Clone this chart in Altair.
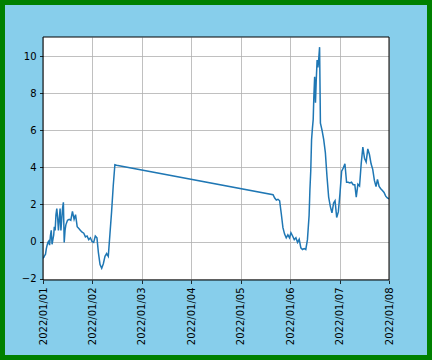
import altair as alt
import pandas as pd

# hours elapsed since 2022-01-01 00:00
hours = [
    0.0, 0.4, 0.8, 1.2, 1.6, 2.0, 2.4, 2.8, 3.2, 3.6, 4.0, 4.4, 4.8, 5.2, 5.5, 5.9,
    6.3, 6.7, 7.1, 7.5, 7.9, 8.3, 8.7, 9.1, 9.5, 9.9, 10.3, 10.7, 11.1,
    11.9, 12.7, 13.5, 14.3, 15.1, 15.8, 16.6, 17.4, 18.2, 19.0, 19.8, 20.6, 21.4,
    22.2, 23.0, 23.8, 24.6, 25.4, 26.2, 26.9, 27.7, 28.5, 29.3, 30.1, 30.9, 31.7,
    32.5, 33.3, 34.1, 34.9, 35.7,
    111.7, 112.5, 113.3, 114.1, 114.9, 115.7, 116.5, 117.3, 118.1, 118.9, 119.7,
    120.4, 121.2, 122.0, 122.8, 123.6, 124.4, 125.2, 126.0, 126.8, 127.6, 128.4,
    129.2, 129.6, 130.0, 130.4, 130.8, 131.2, 131.5, 131.9, 132.3, 132.7, 133.1,
    133.5, 133.9, 134.3, 134.7,
    135.5, 136.3, 137.1, 137.9, 138.7, 139.5, 140.3, 141.1, 141.8, 142.6, 143.4,
    144.2, 145.0, 145.8, 146.6, 147.4, 148.2, 149.0, 149.8, 150.6, 151.4, 152.1,
    152.9, 153.7, 154.5, 155.3, 156.1, 156.9, 157.7, 158.5, 159.3, 160.1, 160.9,
    161.7, 162.4, 163.2, 164.0, 164.8, 165.6, 166.4, 167.2, 168.0,
]

values = [
    -0.9, -0.85, -0.75, -0.7, -0.4, -0.2, -0.05, 0.02, -0.2, 0.3, 0.6, -0.15, 0.1, 0.35, 0.8, 0.6,
    1.45, 1.78, 1.3, 0.6, 1.2, 1.78, 0.6, 1.2, 1.8, 2.12, -0.05, 0.6, 0.9,
    1.15, 1.2, 1.15, 1.63, 1.2, 1.45, 0.8, 0.7, 0.6, 0.5, 0.45, 0.25, 0.3,
    0.1, 0.2, 0.0, -0.05, 0.3, 0.2, -0.6, -1.25, -1.45, -1.2, -0.8, -0.65, -0.8,
    0.4, 1.6, 3.0, 4.15, 4.12,
    2.53, 2.35, 2.24, 2.28, 2.2, 1.5, 0.75, 0.4, 0.2, 0.36, 0.2,
    0.47, 0.3, 0.1, 0.2, -0.05, 0.12, -0.34, -0.43, -0.38, -0.43, 0.1,
    1.4, 2.8, 3.8, 5.5, 6.1, 6.6, 7.8, 8.9, 7.5, 8.8, 9.8,
    9.4, 9.9, 10.5, 6.4,
    6.0, 5.5, 4.8, 3.5, 2.4, 1.9, 1.55, 2.08, 2.2, 1.3, 1.6,
    2.6, 3.8, 3.97, 4.2, 3.2, 3.2, 3.16, 3.2, 3.07, 3.07, 2.4,
    3.1, 3.0, 4.2, 5.1, 4.5, 4.3, 5.0, 4.7, 4.2, 3.9, 3.3,
    2.97, 3.35, 2.97, 2.85, 2.75, 2.65, 2.45, 2.35, 2.3,
]

y_ticks = [-2, 0, 2, 4, 6, 8, 10]
day_ticks = [alt.DateTime(year=2022, month=1, date=d) for d in range(1, 9)]

df = pd.DataFrame({
    "time": pd.Timestamp("2022-01-01") + pd.to_timedelta(hours, unit="h"),
    "value": values,
})

W, H = 346, 243

line = alt.Chart(df).mark_line(color="#1f77b4", strokeWidth=1.5, clip=True).encode(
    x=alt.X(
        "time:T",
        scale=alt.Scale(domain=[alt.DateTime(year=2022, month=1, date=1),
                                alt.DateTime(year=2022, month=1, date=8)]),
        axis=alt.Axis(values=day_ticks, format="%Y/%m/%d", labelAngle=-90,
                      title=None, labelFlush=False, labelOverlap=False),
    ),
    y=alt.Y(
        "value:Q",
        scale=alt.Scale(domain=[-2.08, 11.05], nice=False, zero=False),
        axis=alt.Axis(values=y_ticks, title=None, labelFlush=False),
    ),
)

one = alt.Data(values=[{}])

frame = alt.Chart(one).mark_rect(filled=False, stroke="black", strokeWidth=1).encode(
    x=alt.value(0), x2=alt.value(W), y=alt.value(0), y2=alt.value(H)
)

border = alt.Chart(one).mark_rect(filled=False, stroke="#008000", strokeWidth=10, clip=False).encode(
    x=alt.value(-43), x2=alt.value(W + 43), y=alt.value(-37), y2=alt.value(H + 80)
)

chart = alt.layer(line, frame, border).properties(
    width=W,
    height=H,
    autosize=alt.AutoSizeParams(type="none"),
    padding={"left": 43, "top": 37, "right": 43, "bottom": 80},
    background="#87CEEB",
).configure_view(
    fill="white", stroke=None
).configure_axis(
    grid=True,
    gridColor="#b0b0b0",
    gridWidth=0.8,
    domain=False,
    tickColor="black",
    tickSize=3.5,
    tickWidth=0.8,
    labelFont="DejaVu Sans",
    labelFontSize=10,
    labelColor="black",
    labelPadding=3.5,
)

chart.save("out.html", embed_options={"renderer": "svg", "actions": False})
